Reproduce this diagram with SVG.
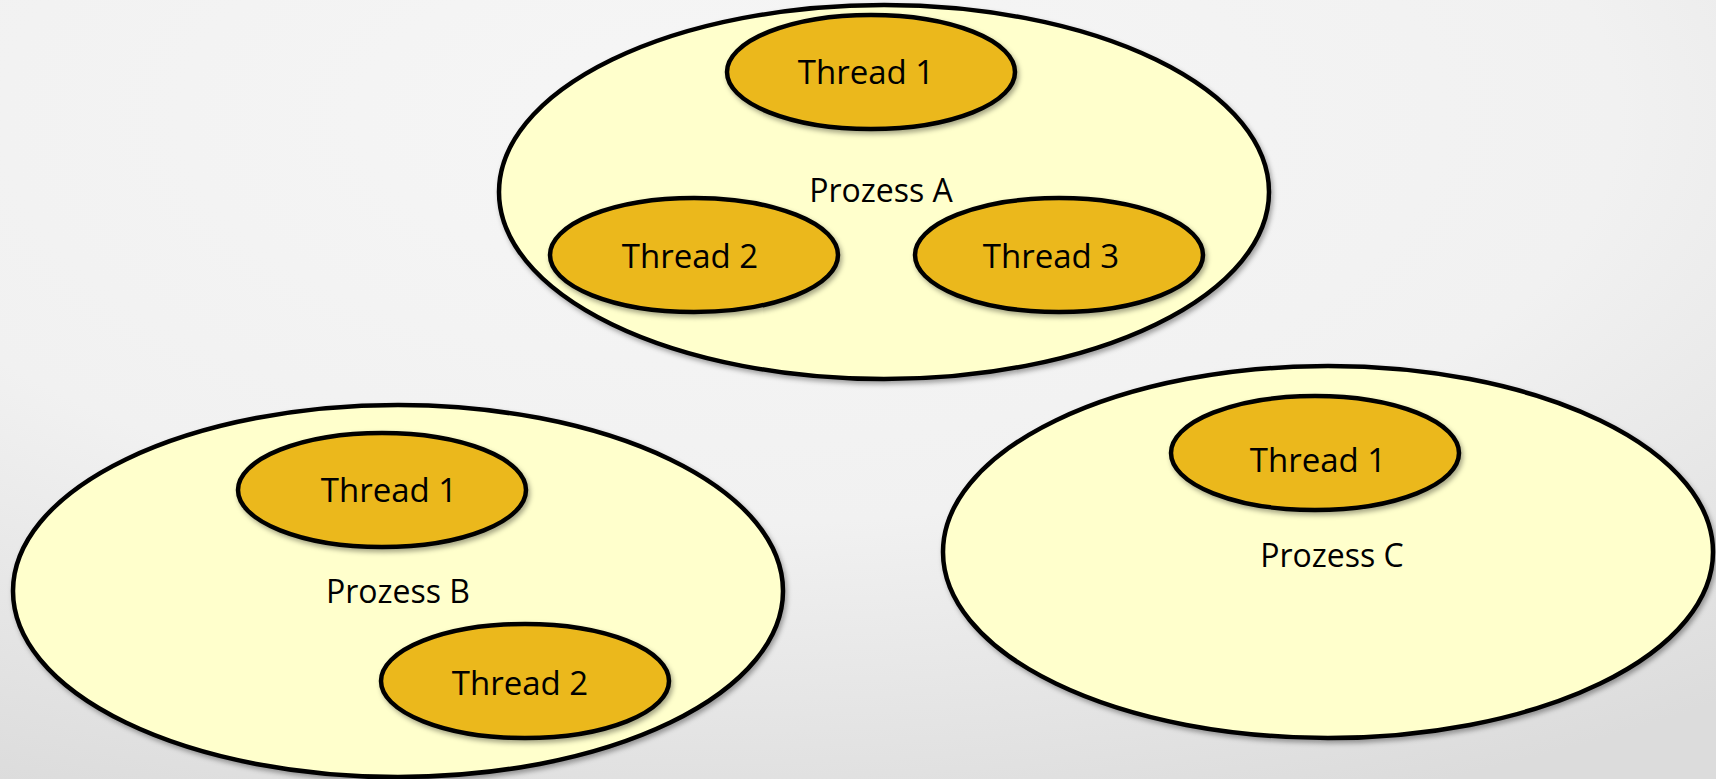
<svg xmlns="http://www.w3.org/2000/svg" width="1716" height="779" viewBox="0 0 1716 779">
  <defs>
    <radialGradient id="bg" cx="0.42" cy="0.15" r="0.95" gradientUnits="objectBoundingBox">
      <stop offset="0" stop-color="#f6f6f6"/>
      <stop offset="0.55" stop-color="#f1f1f1"/>
      <stop offset="1" stop-color="#dcdcdc"/>
    </radialGradient>
    <filter id="shadow" x="-10%" y="-10%" width="125%" height="130%">
      <feDropShadow dx="2" dy="3" stdDeviation="2.5" flood-color="#000" flood-opacity="0.35"/>
    </filter>
  </defs>
  <style>
    .process { fill: #ffffcc; stroke: #000; stroke-width: 4.5; filter: url(#shadow); }
    .thread { fill: #ebb81e; stroke: #000; stroke-width: 4.5; filter: url(#shadow); }
    .label { font-family: "Open Sans", "Noto Sans", "Liberation Sans", sans-serif; font-size: 32px; fill: #000; text-anchor: middle; }
    .thread-label { font-size: 33px; }
  </style>

  <rect width="1716" height="779" fill="url(#bg)"/>

  <!-- Process A with three threads -->
  <g id="prozess-a">
    <ellipse class="process" cx="884" cy="192" rx="385" ry="187"/>
    <text class="label" x="881" y="202">Prozess A</text>
  </g>
  <g id="prozess-a-thread-1">
    <ellipse class="thread" cx="871" cy="72" rx="144" ry="57"/>
    <text class="label thread-label" x="866" y="84">Thread 1</text>
  </g>
  <g id="prozess-a-thread-2">
    <ellipse class="thread" cx="694" cy="255" rx="144" ry="57"/>
    <text class="label thread-label" x="690" y="268">Thread 2</text>
  </g>
  <g id="prozess-a-thread-3">
    <ellipse class="thread" cx="1059" cy="255" rx="144" ry="57"/>
    <text class="label thread-label" x="1051" y="268">Thread 3</text>
  </g>

  <!-- Process B with two threads -->
  <g id="prozess-b">
    <ellipse class="process" cx="398" cy="591" rx="385" ry="186"/>
    <text class="label" x="398" y="603">Prozess B</text>
  </g>
  <g id="prozess-b-thread-1">
    <ellipse class="thread" cx="382" cy="490" rx="144" ry="57"/>
    <text class="label thread-label" x="389" y="502">Thread 1</text>
  </g>
  <g id="prozess-b-thread-2">
    <ellipse class="thread" cx="525" cy="681" rx="144" ry="57"/>
    <text class="label thread-label" x="520" y="695">Thread 2</text>
  </g>

  <!-- Process C with one thread -->
  <g id="prozess-c">
    <ellipse class="process" cx="1328" cy="552" rx="385" ry="186"/>
    <text class="label" x="1332" y="567">Prozess C</text>
  </g>
  <g id="prozess-c-thread-1">
    <ellipse class="thread" cx="1315" cy="453" rx="144" ry="57"/>
    <text class="label thread-label" x="1318" y="472">Thread 1</text>
  </g>

  <!-- no connectors in this diagram -->
  <g id="connectors"/>
</svg>
